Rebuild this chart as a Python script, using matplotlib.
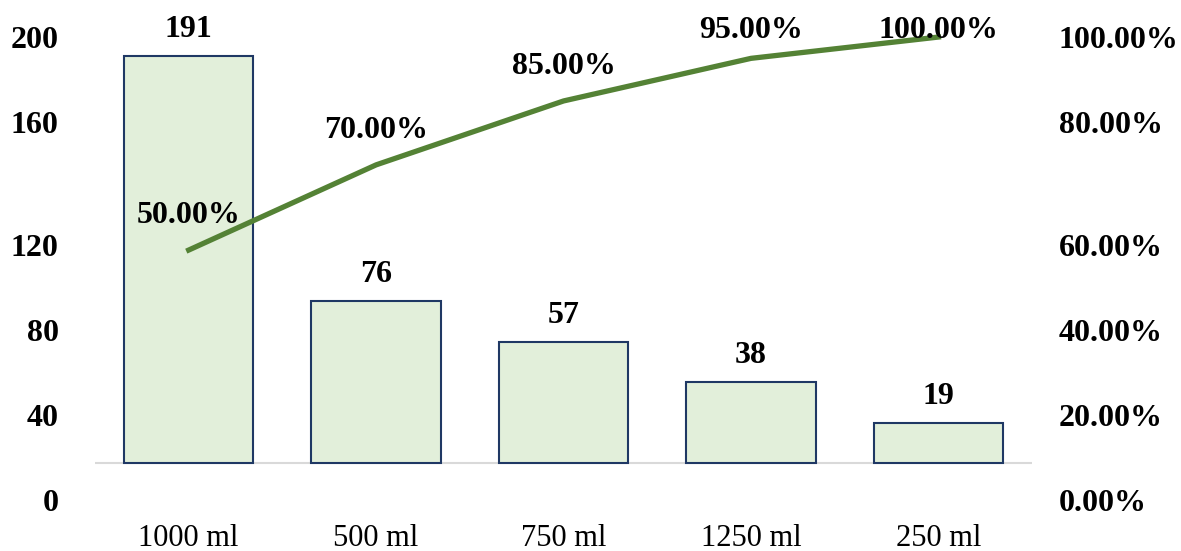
import matplotlib.pyplot as plt

# dados do grafico de pareto
categorias = ["1000 ml", "500 ml", "750 ml", "1250 ml", "250 ml"]
quantidade = [191, 76, 57, 38, 19]
acumulado = [0.50, 0.70, 0.85, 0.95, 1.00]
rotulos_esq = ["0", "40", "80", "120", "160", "200"]
rotulos_dir = ["0.00%", "20.00%", "40.00%", "60.00%", "80.00%", "100.00%"]

plt.rcParams['font.family'] = ['Liberation Serif', 'DejaVu Serif']

fig = plt.figure(figsize=(11.81, 5.51), dpi=100)
ax = fig.add_axes([0.0804, 0.0563, 0.7936, 0.9074])
ax2 = ax.twinx()

x = range(len(categorias))
ax.bar(x, quantidade, width=0.69, color="#e2efda", edgecolor="#1f3864", linewidth=1.5, zorder=2)
ax.axhline(0, color="#d9d9d9", linewidth=1.5, zorder=1)
for i, v in enumerate(quantidade):
    ax.annotate(str(v), (i, v), xytext=(0, 19), textcoords="offset points",
                ha="center", va="center", fontsize=23, fontweight="bold")

ax.set_xlim(-0.5, 4.5)
ax.set_ylim(-26.7, 208)
# os rotulos do eixo ficam em posicoes irregulares como no excel
pos_ticks = [-17.4, 22.5, 62.4, 102.3, 160.0, 199.9]
ax.set_yticks(pos_ticks)
ax.set_yticklabels(rotulos_esq, fontsize=23, fontweight="bold")
ax.set_xticks(list(x))
ax.set_xticklabels(categorias, fontsize=22)
ax.tick_params(axis="y", length=0, pad=26)
ax.tick_params(axis="x", length=0, pad=3)
for s in ax.spines.values():
    s.set_visible(False)

ax2.plot(list(x), acumulado, color="#548235", linewidth=3.8, zorder=3)
ax2.set_ylim(-26.7 / 200, 208 / 200)
ax2.set_yticks([p / 200 for p in pos_ticks])
ax2.set_yticklabels(rotulos_dir, fontsize=23, fontweight="bold")
ax2.tick_params(axis="y", length=0, pad=19)
for s in ax2.spines.values():
    s.set_visible(False)
for i, p in enumerate(acumulado):
    ax2.text(i, min(p + 0.08, 1.016), f"{p*100:.2f}%", ha="center", va="center",
             fontsize=23, fontweight="bold", zorder=4)

plt.savefig("out.png", dpi=100)
